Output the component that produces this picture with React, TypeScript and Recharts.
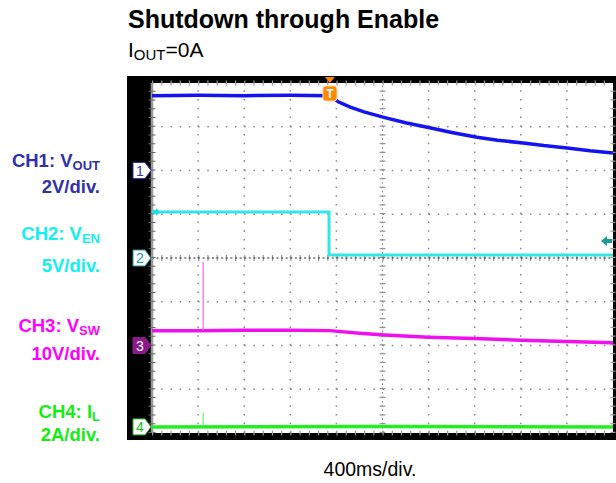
import React from 'react';
import { ComposedChart, Line, XAxis, YAxis, ReferenceLine, ReferenceDot } from 'recharts';

// time in divisions (400ms/div), values in screen divisions from centre line
const ch1Vout = [
  { t: 0, v: 3.71 }, { t: 1, v: 3.72 }, { t: 2, v: 3.71 }, { t: 3, v: 3.72 }, { t: 3.87, v: 3.71 },
  { t: 4.04, v: 3.57 }, { t: 4.3, v: 3.45 }, { t: 4.6, v: 3.34 }, { t: 5.05, v: 3.21 },
  { t: 5.5, v: 3.09 }, { t: 6.05, v: 2.97 }, { t: 6.5, v: 2.87 }, { t: 7.05, v: 2.76 },
  { t: 7.5, v: 2.69 }, { t: 8.05, v: 2.63 }, { t: 8.5, v: 2.57 }, { t: 9.05, v: 2.51 },
  { t: 9.5, v: 2.45 }, { t: 10, v: 2.4 },
];
const ch2Ven = [
  { t: 0, v: 1.05 }, { t: 3.84, v: 1.05 }, { t: 3.84, v: 0.07 }, { t: 10, v: 0.07 },
];
const ch3Vsw = [
  { t: 0, v: -1.66 }, { t: 1, v: -1.66 }, { t: 2, v: -1.65 }, { t: 3, v: -1.65 }, { t: 3.86, v: -1.66 },
  { t: 4.5, v: -1.72 }, { t: 5.05, v: -1.76 }, { t: 6, v: -1.81 }, { t: 7, v: -1.84 },
  { t: 8, v: -1.88 }, { t: 9, v: -1.91 }, { t: 10, v: -1.94 },
];
const ch3Spike = [{ t: 1.11, v: -1.65 }, { t: 1.11, v: -0.09 }];
const ch4Il = [{ t: 0, v: -3.86 }, { t: 5, v: -3.85 }, { t: 10, v: -3.86 }];
const ch4Spike = [{ t: 1.11, v: -3.85 }, { t: 1.11, v: -3.53 }];

const xGrid = [1, 2, 3, 4, 6, 7, 8, 9];
const yGrid = [-3, -2, -1, 1, 2, 3];
const chLevels = [
  { ch: '1', v: 2.0, fill: '#fff', stroke: '#3535c0', text: '#3535c0' },
  { ch: '2', v: 0, fill: '#fff', stroke: '#1a9a9a', text: '#1a9a9a' },
  { ch: '3', v: -2.0, fill: '#8a1a8a', stroke: '#8a1a8a', text: '#fff' },
  { ch: '4', v: -3.86, fill: '#fff', stroke: '#22bb22', text: '#22bb22' },
];
const triggerT = 3.86;
const triggerLevel = 0.39;

const ChMarker = (props: any) => {
  const { cx, cy, ch, fill, stroke, text } = props;
  return (
    <g>
      <path d={`M${cx - 19},${cy - 8} h12 l6,8 l-6,8 h-12 z`} fill={fill} stroke={stroke} strokeWidth={1} />
      <text x={cx - 12} y={cy + 5} textAnchor="middle" fontSize={14} fill={text} fontFamily="Liberation Sans, Arial, sans-serif">{ch}</text>
    </g>
  );
};

const TrigMarker = (props: any) => {
  const { cx, cy } = props;
  return (
    <g>
      <path d={`M${cx - 5},${cy - 6} h10 l-5,6 z`} fill="#ff8800" />
      <rect x={cx - 7} y={cy + 3} width={14} height={15} rx={3} fill="#ff8800" stroke="#ffd0a0" strokeWidth={1} />
      <text x={cx} y={cy + 15} textAnchor="middle" fontSize={12} fontWeight="bold" fill="#fff" fontFamily="Liberation Sans, Arial, sans-serif">T</text>
    </g>
  );
};

const LevelArrow = (props: any) => {
  const { cx, cy } = props;
  return <path d={`M${cx - 12},${cy} l6,-5 v3 h5 v4 h-5 v3 z`} fill="#1a9a9a" />;
};

const LeftArrow = (props: any) => {
  const { cx, cy } = props;
  return <path d={`M${cx + 1},${cy - 2} h3 v-2 l4,4 l-4,4 v-2 h-3 z`} fill="#22dddd" />;
};

const font = '"Liberation Sans", Arial, sans-serif';

const App = () => {
  return (
    <div style={{ position: 'absolute', left: 0, top: 0, width: 616, height: 483, background: '#fff', fontFamily: font }}>
      <div style={{ position: 'absolute', left: 127, top: 76, width: 489, height: 364, background: '#000' }} />
      <div style={{ position: 'absolute', left: 151, top: 83, width: 462, height: 350, background: '#fff' }} />
      <div style={{ position: 'absolute', left: 0, top: 0 }}>
        <ComposedChart width={616} height={483} margin={{ top: 83, right: 3, bottom: 50, left: 152 }}>
          <XAxis type="number" dataKey="t" domain={[0, 10]} hide allowDataOverflow />
          <YAxis type="number" dataKey="v" domain={[-4, 4]} hide allowDataOverflow />
          {xGrid.map((x) => (
            <ReferenceLine key={'x' + x} x={x} stroke="#888" strokeWidth={1.5} strokeDasharray="1.5 7.25" />
          ))}
          {yGrid.map((y) => (
            <ReferenceLine key={'y' + y} y={y} stroke="#888" strokeWidth={1.5} strokeDasharray="1.5 7.72" />
          ))}
          <ReferenceLine x={5} stroke="#999" strokeWidth={6} strokeDasharray="1.2 7.55" />
          <ReferenceLine x={5} stroke="#888" strokeWidth={1} strokeDasharray="1.5 2.875" />
          <ReferenceLine y={0} stroke="#999" strokeWidth={6} strokeDasharray="1.2 8.02" />
          <ReferenceLine y={0} stroke="#222" strokeWidth={1.2} strokeDasharray="2 2.61" />
          <ReferenceLine x={0} stroke="#999" strokeWidth={2.5} />
          <ReferenceLine x={0} stroke="#666" strokeWidth={7} strokeDasharray="1 7.75" />
          <ReferenceLine y={4} stroke="#999" strokeWidth={5} strokeDasharray="1.2 8.02" />
          <ReferenceLine y={-4} stroke="#999" strokeWidth={5} strokeDasharray="1.2 8.02" />
          <ReferenceLine x={10} stroke="#999" strokeWidth={5} strokeDasharray="1.2 7.55" />

          <Line data={ch4Il} dataKey="v" type="linear" stroke="#22ee22" strokeWidth={3.5} dot={false} isAnimationActive={false} />
          <Line data={ch4Spike} dataKey="v" type="linear" stroke="#66ee66" strokeWidth={1.2} dot={false} isAnimationActive={false} />
          <Line data={ch3Vsw} dataKey="v" type="linear" stroke="#ee11ee" strokeWidth={3.5} dot={false} isAnimationActive={false} />
          <Line data={ch3Spike} dataKey="v" type="linear" stroke="#ee66ee" strokeWidth={1.2} dot={false} isAnimationActive={false} />
          <Line data={ch2Ven} dataKey="v" type="linear" stroke="#33e6e6" strokeWidth={3} dot={false} isAnimationActive={false} />
          <Line data={ch1Vout} dataKey="v" type="linear" stroke="#1414ee" strokeWidth={3.5} dot={false} isAnimationActive={false} />

          {chLevels.map((c) => (
            <ReferenceDot key={c.ch} x={0} y={c.v} ifOverflow="visible"
              shape={(p: any) => <ChMarker {...p} ch={c.ch} fill={c.fill} stroke={c.stroke} text={c.text} />} />
          ))}
          <ReferenceDot x={0} y={1.05} ifOverflow="visible" shape={(p: any) => <LeftArrow {...p} />} />
          <ReferenceDot x={triggerT} y={4} ifOverflow="visible" shape={(p: any) => <TrigMarker {...p} />} />
          <ReferenceDot x={10} y={triggerLevel} ifOverflow="visible" shape={(p: any) => <LevelArrow {...p} />} />
        </ComposedChart>
      </div>
      <svg width={616} height={483} style={{ position: 'absolute', left: 0, top: 0, pointerEvents: 'none' }} fontFamily={font}>
        <text x={128} y={28} fontSize={25} fontWeight="bold" fill="#000">Shutdown through Enable</text>
        <text x={128} y={57} fontSize={21} fill="#000">I<tspan fontSize={15} dy={3}>OUT</tspan><tspan dy={-3}>=0A</tspan></text>

        <text x={100} y={167} textAnchor="end" fontSize={18.5} fontWeight="bold" fill="#3030a8">CH1: V<tspan fontSize={13} dy={3}>OUT</tspan></text>
        <text x={100} y={193} textAnchor="end" fontSize={18.5} fontWeight="bold" fill="#3030a8">2V/div.</text>
        <text x={100} y={240} textAnchor="end" fontSize={18.5} fontWeight="bold" fill="#11f0f0">CH2: V<tspan fontSize={13} dy={3}>EN</tspan></text>
        <text x={100} y={272} textAnchor="end" fontSize={18.5} fontWeight="bold" fill="#11f0f0">5V/div.</text>
        <text x={100} y={332} textAnchor="end" fontSize={18.5} fontWeight="bold" fill="#ff00ff">CH3: V<tspan fontSize={13} dy={3}>SW</tspan></text>
        <text x={100} y={360} textAnchor="end" fontSize={18.5} fontWeight="bold" fill="#ff00ff">10V/div.</text>
        <text x={100} y={418} textAnchor="end" fontSize={18.5} fontWeight="bold" fill="#11ee11">CH4: I<tspan fontSize={13} dy={3}>L</tspan></text>
        <text x={100} y={441} textAnchor="end" fontSize={18.5} fontWeight="bold" fill="#11ee11">2A/div.</text>

        <text x={370} y={476} textAnchor="middle" fontSize={19.5} fill="#000">400ms/div.</text>
      </svg>
    </div>
  );
};

export default App;
